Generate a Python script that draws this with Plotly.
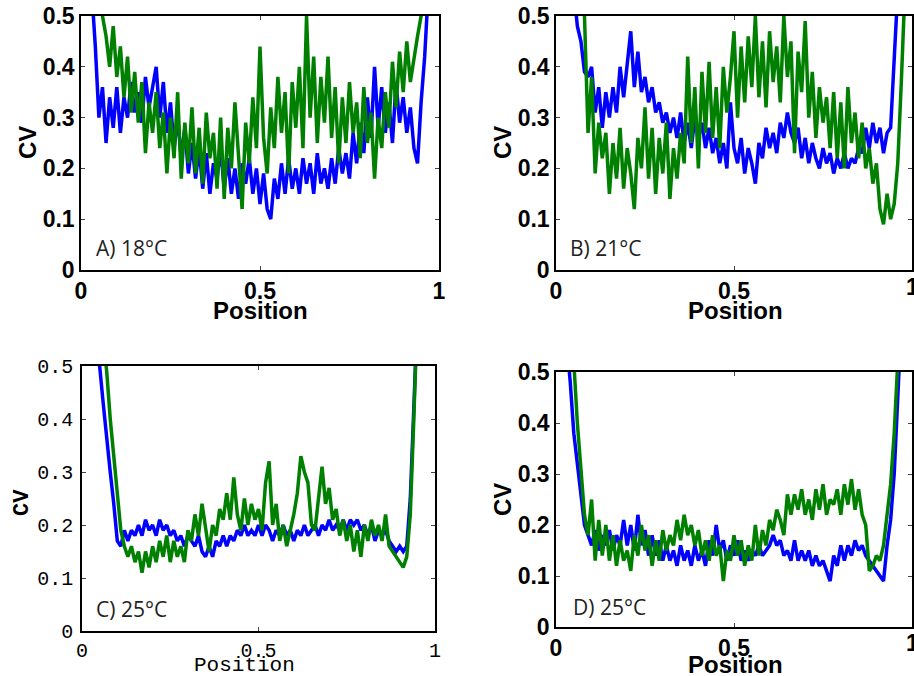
import numpy as np
import plotly.graph_objects as go

# ---------------- data (CV vs position) ----------------
# each series: first position and CV values sampled every 0.01 in position
a_blue_x0 = 0.03
a_blue = [0.55, 0.44, 0.30, 0.36, 0.25, 0.34, 0.28, 0.36, 0.27, 0.34,
          0.30, 0.37, 0.31, 0.35, 0.29, 0.38, 0.32, 0.36, 0.40, 0.30,
          0.37, 0.27, 0.33, 0.24, 0.30, 0.22, 0.28, 0.19, 0.25, 0.18,
          0.24, 0.16, 0.23, 0.15, 0.21, 0.18, 0.24, 0.16, 0.22, 0.15,
          0.20, 0.14, 0.21, 0.17, 0.22, 0.15, 0.20, 0.13, 0.19, 0.12,
          0.10, 0.18, 0.14, 0.21, 0.15, 0.22, 0.16, 0.20, 0.15, 0.22,
          0.17, 0.21, 0.15, 0.23, 0.17, 0.20, 0.16, 0.22, 0.17, 0.24,
          0.19, 0.23, 0.18, 0.27, 0.21, 0.29, 0.23, 0.34, 0.26, 0.40,
          0.28, 0.36, 0.27, 0.33, 0.25, 0.37, 0.29, 0.34, 0.27, 0.32,
          0.24, 0.21, 0.33, 0.42, 0.55]
a_green_x0 = 0.05
a_green = [0.60, 0.50, 0.46, 0.40, 0.48, 0.38, 0.44, 0.34, 0.42, 0.31,
           0.39, 0.29, 0.37, 0.23, 0.33, 0.27, 0.35, 0.24, 0.31, 0.19,
           0.30, 0.22, 0.35, 0.18, 0.29, 0.21, 0.32, 0.19, 0.28, 0.17,
           0.31, 0.22, 0.27, 0.16, 0.30, 0.14, 0.28, 0.20, 0.33, 0.22,
           0.12, 0.29, 0.21, 0.34, 0.24, 0.44, 0.26, 0.19, 0.32, 0.24,
           0.38, 0.27, 0.35, 0.19, 0.37, 0.28, 0.40, 0.24, 0.50, 0.30,
           0.42, 0.25, 0.38, 0.29, 0.42, 0.26, 0.36, 0.21, 0.34, 0.25,
           0.37, 0.27, 0.33, 0.22, 0.36, 0.25, 0.31, 0.18, 0.30, 0.24,
           0.35, 0.28, 0.41, 0.32, 0.43, 0.35, 0.45, 0.37, 0.42, 0.46,
           0.50, 0.56]

b_blue_x0 = 0.05
b_blue = [0.55, 0.48, 0.45, 0.39, 0.38, 0.40, 0.31, 0.36, 0.28, 0.35,
          0.30, 0.36, 0.31, 0.40, 0.34, 0.41, 0.47, 0.36, 0.43, 0.35,
          0.38, 0.33, 0.36, 0.31, 0.33, 0.29, 0.31, 0.27, 0.30, 0.26,
          0.31, 0.25, 0.29, 0.24, 0.30, 0.26, 0.29, 0.24, 0.28, 0.23,
          0.26, 0.21, 0.25, 0.20, 0.33, 0.24, 0.21, 0.26, 0.19, 0.24,
          0.21, 0.17, 0.25, 0.22, 0.28, 0.24, 0.27, 0.23, 0.29, 0.26,
          0.31, 0.27, 0.25, 0.28, 0.22, 0.26, 0.21, 0.25, 0.22, 0.20,
          0.24, 0.21, 0.23, 0.19, 0.22, 0.20, 0.23, 0.20, 0.22, 0.21,
          0.24, 0.23, 0.28, 0.24, 0.29, 0.25, 0.28, 0.23, 0.27, 0.28,
          0.40, 0.55]
b_green_x0 = 0.07
b_green = [0.60, 0.50, 0.27, 0.38, 0.19, 0.29, 0.22, 0.27, 0.15, 0.25,
           0.18, 0.28, 0.16, 0.24, 0.19, 0.12, 0.26, 0.20, 0.32, 0.18,
           0.28, 0.15, 0.26, 0.19, 0.29, 0.14, 0.24, 0.18, 0.27, 0.21,
           0.42, 0.25, 0.36, 0.20, 0.39, 0.27, 0.41, 0.26, 0.36, 0.24,
           0.40, 0.31, 0.38, 0.47, 0.30, 0.44, 0.33, 0.46, 0.36, 0.50,
           0.34, 0.45, 0.32, 0.47, 0.37, 0.44, 0.33, 0.50, 0.38, 0.45,
           0.23, 0.43, 0.35, 0.49, 0.30, 0.39, 0.26, 0.36, 0.29, 0.34,
           0.24, 0.35, 0.22, 0.33, 0.20, 0.36, 0.25, 0.31, 0.22, 0.29,
           0.20, 0.24, 0.17, 0.21, 0.12, 0.09, 0.15, 0.10, 0.13, 0.21,
           0.37, 0.55]

c_blue_x0 = 0.04
c_blue = [0.60, 0.50, 0.43, 0.36, 0.30, 0.24, 0.17, 0.16, 0.19, 0.17,
          0.19, 0.18, 0.20, 0.18, 0.21, 0.19, 0.20, 0.18, 0.21, 0.19,
          0.20, 0.18, 0.19, 0.17, 0.18, 0.16, 0.18, 0.17, 0.16, 0.18,
          0.15, 0.14, 0.16, 0.14, 0.17, 0.16, 0.18, 0.16, 0.18, 0.17,
          0.19, 0.18, 0.20, 0.18, 0.19, 0.18, 0.20, 0.18, 0.20, 0.19,
          0.17, 0.19, 0.18, 0.20, 0.18, 0.19, 0.17, 0.19, 0.18, 0.20,
          0.18, 0.19, 0.20, 0.18, 0.20, 0.19, 0.21, 0.19, 0.20, 0.19,
          0.21, 0.19, 0.21, 0.20, 0.21, 0.19, 0.20, 0.18, 0.20, 0.17,
          0.19, 0.18, 0.19, 0.17, 0.16, 0.15, 0.16, 0.15, 0.16, 0.25,
          0.42, 0.60]
c_green_x0 = 0.06
c_green = [0.55, 0.49, 0.40, 0.33, 0.25, 0.19, 0.16, 0.14, 0.16, 0.13,
           0.15, 0.11, 0.15, 0.12, 0.16, 0.13, 0.17, 0.14, 0.18, 0.13,
           0.17, 0.14, 0.16, 0.13, 0.19, 0.17, 0.22, 0.18, 0.24, 0.19,
           0.15, 0.20, 0.18, 0.23, 0.21, 0.26, 0.21, 0.29, 0.22, 0.19,
           0.25, 0.20, 0.24, 0.21, 0.23, 0.19, 0.28, 0.32, 0.20, 0.24,
           0.17, 0.20, 0.16, 0.19, 0.22, 0.26, 0.33, 0.30, 0.28, 0.20,
           0.19, 0.25, 0.31, 0.24, 0.27, 0.21, 0.23, 0.18, 0.21, 0.17,
           0.20, 0.15, 0.19, 0.14, 0.20, 0.17, 0.21, 0.18, 0.20, 0.17,
           0.22, 0.16, 0.15, 0.14, 0.13, 0.12, 0.14, 0.22, 0.40, 0.60]

d_blue_x0 = 0.03
d_blue = [0.56, 0.48, 0.38, 0.32, 0.26, 0.20, 0.18, 0.16, 0.19, 0.15,
          0.18, 0.16, 0.19, 0.15, 0.18, 0.16, 0.21, 0.16, 0.20, 0.15,
          0.22, 0.16, 0.19, 0.14, 0.18, 0.14, 0.17, 0.13, 0.16, 0.13,
          0.15, 0.12, 0.16, 0.13, 0.15, 0.12, 0.16, 0.13, 0.15, 0.12,
          0.17, 0.14, 0.20, 0.15, 0.17, 0.13, 0.16, 0.14, 0.17, 0.13,
          0.15, 0.13, 0.15, 0.14, 0.16, 0.14, 0.15, 0.16, 0.18, 0.16,
          0.17, 0.14, 0.15, 0.13, 0.17, 0.13, 0.15, 0.13, 0.15, 0.12,
          0.14, 0.12, 0.13, 0.11, 0.09, 0.14, 0.12, 0.16, 0.13, 0.16,
          0.14, 0.17, 0.15, 0.16, 0.14, 0.13, 0.12, 0.11, 0.10, 0.09,
          0.16, 0.21, 0.30, 0.45, 0.60]
d_green_x0 = 0.05
d_green = [0.52, 0.40, 0.31, 0.22, 0.18, 0.25, 0.13, 0.21, 0.14, 0.20,
           0.13, 0.18, 0.12, 0.17, 0.13, 0.15, 0.11, 0.18, 0.14, 0.20,
           0.15, 0.18, 0.12, 0.17, 0.13, 0.19, 0.15, 0.18, 0.16, 0.21,
           0.17, 0.22, 0.18, 0.20, 0.16, 0.19, 0.14, 0.17, 0.13, 0.18,
           0.14, 0.16, 0.09, 0.15, 0.13, 0.18, 0.14, 0.17, 0.12, 0.16,
           0.13, 0.20, 0.14, 0.19, 0.16, 0.21, 0.19, 0.23, 0.21, 0.18,
           0.26, 0.22, 0.26, 0.23, 0.27, 0.22, 0.25, 0.21, 0.27, 0.23,
           0.28, 0.22, 0.25, 0.24, 0.27, 0.22, 0.28, 0.24, 0.29, 0.23,
           0.27, 0.22, 0.20, 0.11, 0.12, 0.14, 0.13, 0.16, 0.22, 0.28,
           0.38, 0.52]

panel_labels = ["A) 18°C", "B) 21°C", "C) 25°C", "D) 25°C"]
x_ticks = [0, 0.5, 1]
x_ticktext = ["0", "0.5", "1"]
y_ticks = [0, 0.1, 0.2, 0.3, 0.4, 0.5]
y_ticktext = ["0", "0.1", "0.2", "0.3", "0.4", "0.5"]

BLUE = "#0000FF"
GREEN = "#008000"
W, H = 914, 676


def positions(x0, vals):
    return np.round(x0 + 0.01 * np.arange(len(vals)), 2)


panels = [
    (a_blue_x0, a_blue, a_green_x0, a_green),
    (b_blue_x0, b_blue, b_green_x0, b_green),
    (c_blue_x0, c_blue, c_green_x0, c_green),
    (d_blue_x0, d_blue, d_green_x0, d_green),
]

# pixel boxes of plot areas (left, right, top, bottom)
boxes = [(81, 439, 16, 270), (556, 912, 16, 270), (82, 435, 366, 631), (556, 912, 372, 627)]

fig = go.Figure()
layout = dict(template="none", width=W, height=H, margin=dict(l=0, r=0, t=0, b=0, pad=0),
              paper_bgcolor="white", plot_bgcolor="white", showlegend=False)

SANS = "Liberation Sans, Arial, sans-serif"
MONO = "Liberation Mono, Courier New, monospace"
bold_font = dict(family=SANS, size=23, color="black", weight="bold")
mono_font = dict(family=MONO, size=20, color="black")

annotations = []
for i, (bx0, bv, gx0, gv) in enumerate(panels):
    n = "" if i == 0 else str(i + 1)
    fig.add_trace(go.Scatter(x=positions(bx0, bv), y=bv, mode="lines",
                             line=dict(color=BLUE, width=3.5), xaxis="x" + n, yaxis="y" + n))
    fig.add_trace(go.Scatter(x=positions(gx0, gv), y=gv, mode="lines",
                             line=dict(color=GREEN, width=3.5), xaxis="x" + n, yaxis="y" + n))
    l, r, t, b = boxes[i]
    tf = mono_font if i == 2 else bold_font
    common = dict(showgrid=False, zeroline=False, showline=True, linecolor="black",
                  linewidth=1.5, mirror="ticks", ticks="inside", ticklen=4,
                  tickcolor="#444", tickwidth=1, tickfont=tf, fixedrange=True,
                  automargin=False)
    ys = 3 if i == 2 else 0
    layout["xaxis" + n] = dict(domain=[l / W, r / W], range=[0, 1], anchor="y" + n,
                               tickvals=x_ticks, ticktext=x_ticktext, **common)
    layout["yaxis" + n] = dict(domain=[1 - b / H, 1 - t / H], range=[0, 0.5], anchor="x" + n,
                               tickvals=y_ticks, ticktext=y_ticktext,
                               ticklabelstandoff=ys, **common)

# axis titles and panel labels (pixel positions)
title_bold = dict(family=SANS, size=24, color="black", weight="bold")
title_mono = dict(family=MONO, size=21, color="black")
cv_mono = dict(family=MONO, size=22, color="black", weight="bold")
cv_pos = [(27, 143), (502, 143), (22, 503), (502, 500)]
pos_pos = [(260, 310), (735, 310), (244, 665), (735, 664)]
lab_pos = [(94, 248), (568, 248), (94, 609), (571, 607)]
for i in range(4):
    f = title_mono if i == 2 else title_bold
    annotations.append(dict(text="CV", x=cv_pos[i][0] / W, y=1 - cv_pos[i][1] / H,
                            xref="paper", yref="paper", showarrow=False, textangle=-90,
                            xanchor="center", yanchor="middle",
                            font=cv_mono if i == 2 else f))
    annotations.append(dict(text="Position", x=pos_pos[i][0] / W, y=1 - pos_pos[i][1] / H,
                            xref="paper", yref="paper", showarrow=False,
                            xanchor="center", yanchor="middle", font=f))
    annotations.append(dict(text=panel_labels[i], x=lab_pos[i][0] / W, y=1 - lab_pos[i][1] / H,
                            xref="paper", yref="paper", showarrow=False,
                            xanchor="left", yanchor="middle",
                            font=dict(family="Open Sans, sans-serif", size=21, color="#222")))

# the "1" tick labels of the right-hand panels sit at the page edge (partly cut, as in the reference)
for ax, ypx in (("x2", 287), ("x4", 643)):
    annotations.append(dict(text=x_ticktext[-1], x=x_ticks[-1], xref=ax, y=1 - ypx / H, yref="paper",
                            showarrow=False, xanchor="center", yanchor="middle", font=bold_font))

layout["annotations"] = annotations
fig.update_layout(**layout)
fig.write_html("out.html")
